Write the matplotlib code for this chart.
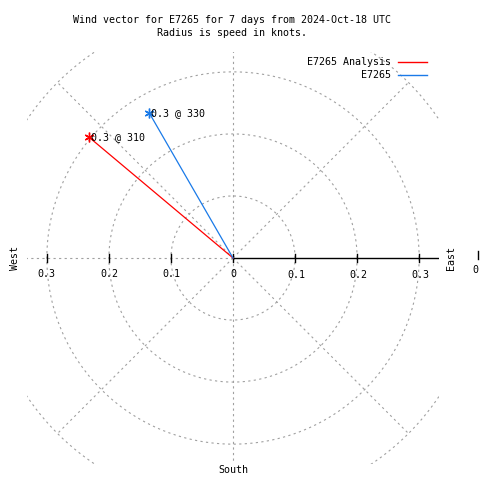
import numpy as np
import matplotlib.pyplot as plt

plt.rcParams['font.family'] = ['DejaVu Sans Mono']
plt.rcParams['font.size'] = 7.2

# wind data (speed in knots, direction in degrees from north)
series = ['E7265 Analysis', 'E7265']
speeds = [0.303, 0.27]
directions = [310, 330]
colors = ['#ff0000', '#1a7ae8']

rings = [0.1, 0.2, 0.3, 0.4]
spokes = [0, 45, 90, 135, 180, 225, 270, 315]
ticks = [0.1, 0.2, 0.3]
lim = 0.332

fig = plt.figure(figsize=(4.8, 4.8), dpi=100)
ax = fig.add_axes([27 / 480, 16 / 480, 412 / 480, 412 / 480])
ax.set_xlim(-lim, lim)
ax.set_ylim(-lim, lim)
ax.axis('off')

grid = dict(color='#a0a0a0', lw=0.8, ls=(0, (2, 3)))
th = np.linspace(0, 2 * np.pi, 400)
for r in rings:
    ax.plot(r * np.cos(th), r * np.sin(th), **grid)
for a in spokes:
    if a == 90:
        continue
    t = np.radians(a)
    ax.plot([0, 0.4 * np.sin(t)], [0, 0.4 * np.cos(t)], **grid)

# east axis solid, with ticks
ax.plot([0, lim], [0, 0], color='black', lw=1.0)
for v in [-0.3, -0.2, -0.1, 0, 0.1, 0.2, 0.3]:
    ax.plot([v, v], [-0.006, 0.006], color='black', lw=1.0)

for v in ticks:
    ax.text(-v, -0.018, f"{v:g}", ha='center', va='top')
    ax.text(v + 0.002, -0.019, f"{v:g}", ha='center', va='top')
ax.text(0, -0.018, "0", ha='center', va='top')

# vectors
for name, s, d, c in zip(series, speeds, directions, colors):
    t = np.radians(d)
    x, y = s * np.sin(t), s * np.cos(t)
    ax.plot([0, x], [0, y], color=c, lw=0.9)
    ax.plot([x], [y], marker=(6, 2, 0), color=c, ms=7, mew=1.0)
    ax.text(x + 0.003, y, f"{s:.1f} @ {d}", ha='left', va='center')

# direction labels
fig.text(15 / 480, 1 - 258 / 480, "West", rotation=90, ha='center', va='center')
fig.text(451 / 480, 1 - 258 / 480, "East", rotation=90, ha='center', va='center')
fig.text(233 / 480, 1 - 470 / 480, "South", ha='center', va='center')
fig.text(475 / 480, 1 - 270 / 480, "0", ha='center', va='center')
fig.lines.append(plt.Line2D([478 / 480, 478 / 480], [1 - 251 / 480, 1 - 259 / 480],
                            transform=fig.transFigure, color='black', lw=1.0))

# title
fig.text(232 / 480, 1 - 20 / 480, "Wind vector for E7265 for 7 days from 2024-Oct-18 UTC",
         ha='center', va='center')
fig.text(232 / 480, 1 - 33 / 480, "Radius is speed in knots.", ha='center', va='center')

# legend
for i, (name, c) in enumerate(zip(series, colors)):
    yy = 1 - (62 + 13 * i) / 480
    fig.text(391 / 480, yy, name, ha='right', va='center')
    fig.lines.append(plt.Line2D([398 / 480, 427 / 480], [yy, yy],
                                transform=fig.transFigure, color=c, lw=1.0))

fig.savefig('out.png', dpi=100)
